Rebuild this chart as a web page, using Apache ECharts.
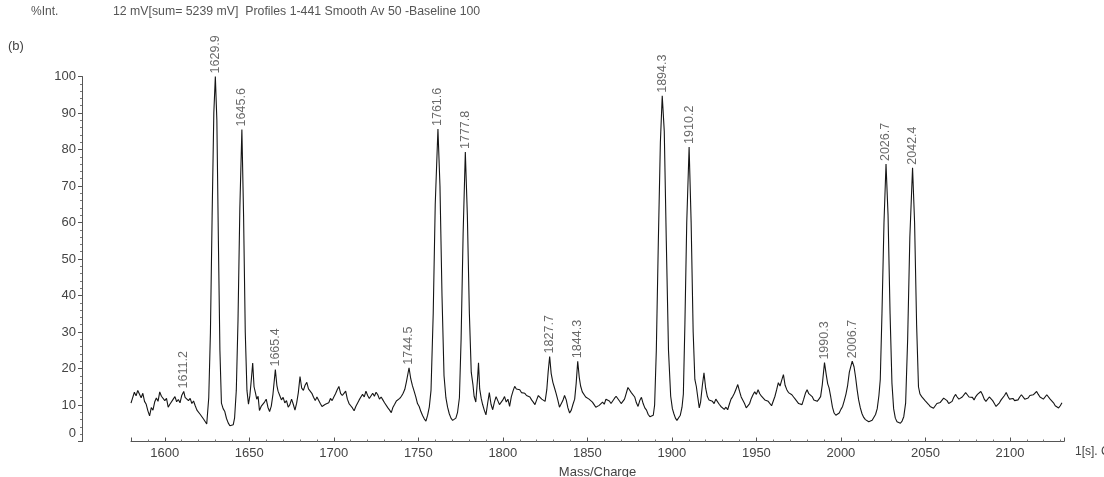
<!DOCTYPE html>
<html>
<head>
<meta charset="utf-8">
<script src="https://cdn.jsdelivr.net/npm/echarts@6/dist/echarts.min.js"></script>
<style>
html,body{margin:0;padding:0;background:#fff;}
#chart{width:1104px;height:477px;}
</style>
</head>
<body>
<div id="chart"></div>
<script>
// profile trace: [m/z, %Int.]
const spectrum = [
[1580,10.5],[1581,12],[1582,13.5],[1583,12.5],[1584,14],[1585,13.6],[1586,12],[1587,13.2],[1588,11],[1589,10.2],[1590,8.4],[1591,7],[1592,9.3],[1593,8.6],[1594,10.8],[1595,11.9],[1596,11],[1597,13.6],[1598,12.4],[1599,12.9],[1600,11.2],[1601,11.8],[1602,9.4],[1603,10.2],[1604,9.7],[1605,11.6],[1606,12.3],[1607,10.9],[1608,11.5],[1609,10.6],[1610,12.6],[1611.2,13.7],[1612,12.1],[1613,12.6],[1614,11.2],[1615,11.8],[1616,10.4],[1617,11.1],[1618,9.8],[1619,8.6],[1620,9.1],[1621,7.4],[1622,7.9],[1623,6.1],[1624,5.6],[1624.8,4.8],
[1626,12],[1627,30],[1628,62],[1629,90],[1629.9,100],[1630.8,88],[1631.7,55],[1632.6,25],[1633.5,10.5],
[1634.5,9],[1635.5,8.2],[1636.5,6.3],[1637.5,5.1],[1638.5,4.3],[1639.5,3.9],[1640.5,4.6],[1641.3,6.5],[1642.3,14],[1643.3,33],[1644.4,64],[1645.6,85.5],[1646.6,62],[1647.6,30],[1648.6,14],[1649.5,10.2],[1650.3,12.5],[1651.2,17],[1652,21.5],[1652.8,15],[1653.6,13.4],[1654.4,11.6],[1655.2,12.4],[1656,8.5],[1657,9.6],[1658,9.1],[1659,10.8],[1660,11.6],[1661,9.4],[1662,8.2],[1663,9.7],[1664,13],[1665.4,19.7],[1666.3,15.4],[1667,13.8],[1668,12.6],[1669,11.4],[1670,12.1],[1671,10.6],[1672,11.2],[1673,9.4],[1674,10.1],[1675,11.6],[1676,10.2],[1677,8.6],[1678,10.5],[1679,13.4],[1680,17.8],[1681,14.6],[1682,14],[1683,15.4],[1684,16.2],[1685,14.4],[1686,14.8],[1687,13.2],[1688,12.1],[1689,11.2],[1690,12.2],[1691,11.3],[1692,10.4],[1693,9.6],[1694,9.1],[1695,10.2],[1696,9.7],[1697,10.6],[1698,11.8],[1699,11.2],[1700,12.2],[1701,13.1],[1702,14.2],[1703,15.1],[1704,13.2],[1705,12.6],[1706,13.2],[1707,13.8],[1708,11.6],[1709,10.4],[1710,9.8],[1711,9.2],[1712,8.4],[1713,9.6],[1714,10.5],[1715,11.4],[1716,12.2],[1717,12.9],[1718,12.2],[1719,13.8],[1720,12.6],[1721,11.8],[1722,12.1],[1723,13.2],[1724,12.4],[1725,13.5],[1726,12.8],[1727,11.6],[1728,12.2],[1729,11.4],[1730,10.6],[1731,10.4],[1732,9.2],[1733,8.6],[1734,7.9],[1735,9.4],[1736,10.2],[1737,11.1],[1738,10.6],[1739,11.8],[1740,12.4],[1741,13.2],[1742,14.3],[1743,16.5],[1744.5,20.2],[1745.5,17.2],[1746.5,15.3],[1747.5,13.8],[1748.5,12.2],[1749.5,10.4],[1750.5,9.6],[1751.5,8.2],[1752.5,7.1],[1753.5,6.2],[1754.5,5.6],[1755.5,7.2],[1756.5,9.5],
[1757.5,14],[1758.8,35],[1760,65],[1761.6,85.6],[1762.8,70],[1764,40],[1765.2,18],[1766.3,12],[1767.3,9.4],[1768.3,7.6],[1769.3,6.4],[1770.3,5.8],[1771.2,5.3],[1772.2,6.4],[1773.2,8],[1774.3,12],[1775.3,28],[1776.5,57],[1777.8,79.3],[1779,62],[1780.2,35],[1781.3,19],[1782.3,15.6],[1783,12.4],[1784,10.8],[1785,17],[1785.6,21.6],[1786.3,14.4],[1787.2,11.8],[1788,10.2],[1789,8.6],[1790,7.3],[1791,10.4],[1792,13.4],[1793,10.2],[1794,8.7],[1795,10.8],[1796,12.3],[1797,11.2],[1798,10.1],[1799,9.6],[1800,11.4],[1801,12.3],[1802,10.8],[1803,11.6],[1804,9.6],[1805,12.2],[1806,13.8],[1807,15.1],[1808,14.4],[1809,14.8],[1810,14.2],[1811,13.4],[1812,13.9],[1813,13.2],[1814,12.6],[1815,12.9],[1816,12.2],[1817,11.4],[1818,10.8],[1819,10.1],[1820,11.4],[1821,12.6],[1822,12.8],[1823,11.6],[1824,12.1],[1825,11],[1826,14.2],[1826.8,19],[1827.7,23.3],[1828.6,18.6],[1829.6,16.2],[1830.5,14.8],[1831.5,13.2],[1832.5,11.4],[1833.5,9.4],[1834.5,9.8],[1835.5,11.2],[1836.5,12.6],[1837.5,11.4],[1838.5,9.2],[1839.5,7.8],[1840.5,8.6],[1841.5,10.2],[1842.5,11.6],[1843.4,16],[1844.3,22],[1845.2,17.6],[1846,15.2],[1847,13.6],[1848,13.1],[1849,12.2],[1850,12.4],[1851,11.6],[1852,11.2],[1853,10.8],[1854,10.1],[1855,9.4],[1856,9.1],[1857,9.9],[1858,10.4],[1859,10.8],[1860,10.2],[1861,11.6],[1862,11.8],[1863,11.1],[1864,10.4],[1865,10.7],[1866,11.8],[1867,12.4],[1868,12.2],[1869,11.1],[1870,10.4],[1871,10.2],[1872,11.6],[1873,13.2],[1874,14.8],[1875,14.1],[1876,13.4],[1877,13.8],[1878,12.2],[1879,10.6],[1880,9.6],[1881,11.2],[1882,12.1],[1883,10.4],[1884,9.2],[1885,8.6],[1886,7.4],[1887,6.8],[1888,6.3],[1889,7.2],[1889.8,10],
[1890.8,25],[1892,55],[1893.2,82],[1894.3,94.7],[1895.5,85],[1896.7,55],[1898,25],[1899.3,12.4],[1900.3,9],[1901.2,7.6],[1902.1,6.4],[1903,5.8],[1904,6.2],[1905,7.2],[1906,9.4],[1906.8,13],
[1907.7,32],[1908.8,60],[1910.2,80.7],[1911.4,60],[1912.6,30],[1913.6,17],[1914.5,15],[1915.3,12.2],[1916.2,9.2],[1917,10.8],[1918,15.2],[1919,18.8],[1920,14.6],[1921,12.3],[1922,11.4],[1923,11.8],[1924,11],[1925,10.4],[1926,11.6],[1927,11.4],[1928,10.2],[1929,9.6],[1930,9.6],[1931,8.8],[1932,9.4],[1933,8.7],[1934,10.2],[1935,11.6],[1936,12.3],[1937,13.2],[1938,14.4],[1939,15.6],[1940,13.8],[1941,12.2],[1942,12.3],[1943,10.4],[1944,9.2],[1945,8.7],[1946,10.4],[1947,11.8],[1948,12.8],[1949,13.6],[1950,12.9],[1951,14.2],[1952,13.1],[1953,12.4],[1954,12.3],[1955,11.4],[1956,11.8],[1957,11],[1958,10.6],[1959,9.8],[1960,10.1],[1961,12.4],[1962,14.2],[1963,16.1],[1964,15.2],[1965,16.8],[1966,18.3],[1967,15.4],[1968,14.2],[1969,13.4],[1970,13.8],[1971,12.8],[1972,12.2],[1973,11.6],[1974,11],[1975,10.4],[1976,10.8],[1977,10.1],[1978,11.6],[1979,13.2],[1980,14.2],[1981,13.1],[1982,12.6],[1983,12.3],[1984,11.4],[1985,11.8],[1986,11],[1987,11.6],[1988,12.3],[1989,15.6],[1990.3,21.6],[1991.3,18.4],[1992.2,15.8],[1993,14.7],[1994,12.2],[1995,9.4],[1996,7.8],[1997,7.2],[1998,6.9],[1999,7.8],[2000,8.8],[2001,9.6],[2002,11.2],[2003,13],[2004,15.4],[2005,19],[2006.7,22],[2007.8,20.4],[2008.7,17.6],[2009.6,14.2],[2010.5,11.4],[2011.5,9.2],[2012.5,7.6],[2013.5,6.6],[2014.5,6],[2015.5,5.7],[2016.5,5.4],[2017.5,5.5],[2018.5,5.8],[2019.5,6.2],[2020.5,7.4],[2021.5,9],[2022.5,12.6],[2023.3,17],
[2024.3,35],[2025.5,60],[2026.7,76],[2027.9,62],[2029.1,35],[2030.2,16],[2031.2,9],[2032.2,6.4],[2033.2,5.4],[2034.2,4.9],[2035.2,5],[2036.2,5.6],[2037.2,6.8],[2038.3,10.5],[2039.5,28],[2040.8,56],[2042.4,75],[2043.6,60],[2044.8,32],[2045.9,15],[2046.8,13],[2047.8,12.3],[2048.8,11.8],[2049.8,11.2],[2050.8,10.9],[2051.8,10.2],[2052.8,9.6],[2053.8,9.4],[2054.8,9.1],[2055.8,9.6],[2056.8,10.4],[2057.8,10.1],[2058.8,10.7],[2059.8,11.2],[2060.8,11.9],[2061.8,12.1],[2062.8,11.2],[2063.8,10.4],[2064.8,10.1],[2065.8,11],[2066.8,12.1],[2067.8,12.9],[2068.8,12.2],[2069.8,11.6],[2070.8,11.4],[2071.8,12.2],[2072.8,12.6],[2073.8,13.4],[2074.8,12.8],[2075.8,12.2],[2076.8,11.8],[2077.8,12.1],[2078.8,11.4],[2079.8,12.3],[2080.8,12.9],[2081.8,12.4],[2082.8,13.7],[2083.8,12.8],[2084.8,11.6],[2085.8,11],[2086.8,11.4],[2087.8,12.2],[2088.8,11.9],[2089.8,11.2],[2090.8,10.4],[2091.8,9.6],[2092.8,9.8],[2093.8,10.6],[2094.8,11.4],[2095.8,11.8],[2096.8,12.6],[2097.8,13.4],[2098.8,12.4],[2099.8,11.6],[2100.8,11.4],[2101.8,11.8],[2102.8,11.2],[2103.8,10.8],[2104.8,11.4],[2105.8,12.2],[2106.8,12.8],[2107.8,12.3],[2108.8,11.6],[2109.8,11.4],[2110.8,11.9],[2111.8,12.6],[2112.8,12.3],[2113.8,12.8],[2114.8,13.2],[2115.8,13.7],[2116.8,12.9],[2117.8,12.2],[2118.8,12],[2119.8,11.6],[2120.8,12.2],[2121.8,12.8],[2122.8,12.4],[2123.8,11.6],[2124.8,11.4],[2125.8,10.6],[2126.8,9.8],[2127.8,9.6],[2128.8,9.2],[2129.8,9.8],[2130.8,10.6]
];
// annotated peaks
const peakLabels = ['1611.2','1629.9','1645.6','1665.4','1744.5','1761.6','1777.8','1827.7','1844.3','1894.3','1910.2','1990.3','2006.7','2026.7','2042.4'];
const peakMz = [1611.2,1629.9,1645.6,1665.4,1744.5,1761.6,1777.8,1827.7,1844.3,1894.3,1910.2,1990.3,2006.7,2026.7,2042.4];
const peakInt = [13.7,100,85.5,19.7,20.2,85.6,79.3,23.3,22,94.7,80.7,21.6,22,76,75];
const yTicks = [0,10,20,30,40,50,60,70,80,90,100];

const FONT = '"Liberation Sans", Arial, sans-serif';
const chart = echarts.init(document.getElementById('chart'), null, {renderer: 'canvas'});
chart.setOption({
  animation: false,
  backgroundColor: '#fff',
  grid: {left: 131, width: 933, top: 76.5, bottom: 35.5, containLabel: false, outerBoundsMode: 'none'},
  xAxis: {
    type: 'value', min: 1580, max: 2132, splitNumber: 11,
    name: 'Mass/Charge', nameLocation: 'middle', nameGap: 24,
    nameTextStyle: {fontFamily: FONT, fontSize: 13, color: '#444'},
    axisLine: {show: true, lineStyle: {color: '#555', width: 1}},
    axisTick: {show: true, inside: true, length: 4, lineStyle: {color: '#555'}},
    minorTick: {show: true, splitNumber: 5, length: 2, lineStyle: {color: '#777'}},
    axisLabel: {fontFamily: FONT, fontSize: 13, color: '#444', margin: 5, showMinLabel: false, showMaxLabel: false,
      formatter: v => (v % 50 === 0 ? String(v) : '')},
    splitLine: {show: false}
  },
  yAxis: {
    type: 'value', min: yTicks[0], max: yTicks[yTicks.length - 1], interval: 10,
    offset: 49,
    axisLine: {show: true, lineStyle: {color: '#555', width: 1}},
    axisTick: {show: true, length: 4, lineStyle: {color: '#555'}},
    minorTick: {show: true, splitNumber: 5, length: 2, lineStyle: {color: '#777'}},
    axisLabel: {fontFamily: FONT, fontSize: 13, color: '#444', margin: 6,
      formatter: v => (v === 0 ? '{z|0}' : String(v)),
      rich: {z: {fontFamily: FONT, fontSize: 13, color: '#444', padding: [0, 0, 16, 0]}}},
    splitLine: {show: false}
  },
  graphic: [
    {type: 'text', left: 31, top: 6, style: {text: '%Int.', font: '12px ' + FONT, fill: '#555'}},
    {type: 'text', left: 113, top: 6, style: {text: '12 mV[sum= 5239 mV]  Profiles 1-441 Smooth Av 50 -Baseline 100', font: '12.3px ' + FONT, fill: '#555'}},
    {type: 'text', left: 8, top: 40, style: {text: '(b)', font: '13px ' + FONT, fill: '#444'}},
    {type: 'text', left: 1075, top: 446, style: {text: '1[s]. C', font: '12px ' + FONT, fill: '#444'}}
  ],
  series: [
    {
      type: 'line',
      data: spectrum,
      showSymbol: false,
      symbol: 'none',
      lineStyle: {color: '#151515', width: 1.1},
      silent: true,
      z: 2
    },
    {
      type: 'scatter',
      data: peakMz.map((m, i) => ({name: peakLabels[i], value: [m, peakInt[i]]})),
      symbolSize: 0.1,
      itemStyle: {color: 'rgba(0,0,0,0)'},
      label: {
        show: true, position: 'top', distance: 3, rotate: 90,
        align: 'left', verticalAlign: 'middle',
        formatter: p => p.name,
        fontFamily: FONT, fontSize: 12.5, color: '#444'
      },
      silent: true,
      z: 3
    }
  ]
});
</script>
</body>
</html>
